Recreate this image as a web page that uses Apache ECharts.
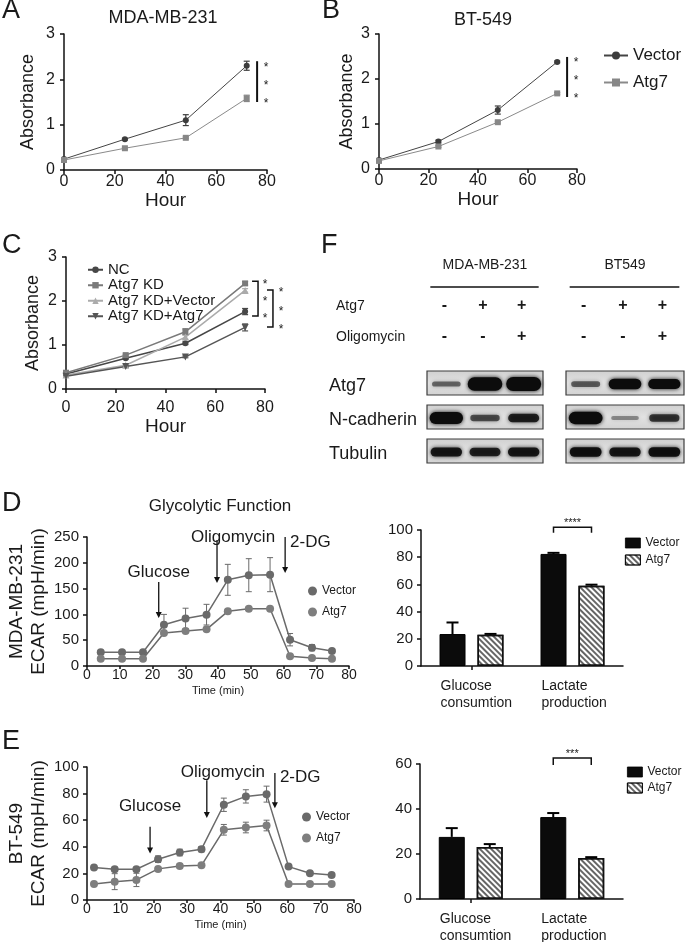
<!DOCTYPE html>
<html><head><meta charset="utf-8">
<script src="https://cdn.jsdelivr.net/npm/echarts@6/dist/echarts.min.js"></script>
<style>html,body{margin:0;padding:0;background:#fff}#c{width:685px;height:942px}</style>
</head><body><div id="c"></div>
<script>
// ---------------- DATA ----------------
const hours = [0, 24, 48, 72];
// Panel A (MDA-MB-231)
const aVector = [0.24, 0.68, 1.10, 2.30];
const aVectorErr = [0.02, 0.02, 0.12, 0.10];
const aAtg7 = [0.22, 0.48, 0.71, 1.58];
const aAtg7Err = [0.02, 0.02, 0.02, 0.07];
// Panel B (BT-549)
const bVector = [0.20, 0.61, 1.31, 2.38];
const bVectorErr = [0.02, 0.03, 0.09, 0.02];
const bAtg7 = [0.18, 0.50, 1.04, 1.68];
const bAtg7Err = [0.02, 0.02, 0.02, 0.02];
// Panel C
const cNC = [0.34, 0.70, 1.04, 1.76];
const cNCErr = [0.02, 0.02, 0.03, 0.07];
const cKD = [0.37, 0.77, 1.30, 2.40];
const cKDErr = [0.02, 0.02, 0.07, 0.04];
const cKDVector = [0.32, 0.54, 1.18, 2.24];
const cKDVectorErr = [0.02, 0.02, 0.05, 0.04];
const cKDAtg7 = [0.29, 0.51, 0.73, 1.40];
const cKDAtg7Err = [0.02, 0.02, 0.02, 0.08];
// Panel D line (ECAR, MDA-MB-231)
const dTime = [4.2, 10.7, 17.1, 23.5, 30.1, 36.5, 43.0, 49.4, 55.9, 62.0, 68.7, 74.8];
const dVector = [26.5, 26.5, 26.5, 80, 92, 99.5, 167, 176, 177, 51, 35.5, 29];
const dVectorErr = [3, 3, 3, 20, 20, 20, 30, 32, 33, 12, 6, 3];
const dAtg7 = [14, 14, 14, 64, 68, 71, 106, 111, 111, 19, 15.5, 14];
const dAtg7Err = [2, 2, 2, 3, 3, 3, 3, 3, 3, 2, 2, 2];
// Panel E line (ECAR, BT-549)
const eTime = [2.1, 8.3, 14.8, 21.3, 27.8, 34.3, 41.0, 47.6, 53.8, 60.4, 66.8, 73.3];
const eVector = [24.4, 23.1, 23.1, 30.7, 35.7, 38.2, 71.6, 77.9, 79.6, 25.1, 20.1, 18.8];
const eVectorErr = [1.5, 1.5, 1.5, 2.5, 2.5, 2, 5, 5, 6, 1, 1, 1];
const eAtg7 = [12.1, 13.8, 15.1, 23.4, 25.6, 26.1, 52.8, 54.5, 56.0, 12.1, 12.1, 12.1];
const eAtg7Err = [1.5, 6, 5, 1.5, 1.5, 1, 4, 4, 4, 1, 1, 1];
// Bar charts
const barCats = ['Glucose\nconsumtion', 'Lactate\nproduction'];
const dBarVector = [23.5, 82.4];
const dBarVectorErr = [8.5, 0.8];
const dBarAtg7 = [23.0, 59.0];
const dBarAtg7Err = [0.6, 0.8];
const eBarVector = [27.6, 36.4];
const eBarVectorErr = [3.9, 1.8];
const eBarAtg7 = [23.1, 18.2];
const eBarAtg7Err = [1.3, 0.4];
// Western blot (F)
const blotLanes = ['1', '2', '3'];
const blotRows = ['Atg7', 'N-cadherin', 'Tubulin'];
const atg7Signs = ['-', '+', '+'];
const oligoSigns = ['-', '-', '+'];
const mdaAtg7 = [0.20, 0.95, 1.00];
const mdaNcad = [0.80, 0.30, 0.50];
const mdaTub = [0.55, 0.50, 0.55];
const btAtg7 = [0.25, 0.70, 0.65];
const btNcad = [0.85, 0.08, 0.40];
const btTub = [0.60, 0.55, 0.60];

// ---------------- HELPERS ----------------
const FONT = '"Liberation Sans", Arial, sans-serif';
const TXT = '#1a1a1a';
function merge(a, b) {
  for (const k in b) {
    if (b[k] && typeof b[k] === 'object' && !Array.isArray(b[k]) && a[k] && typeof a[k] === 'object' && !Array.isArray(a[k])) merge(a[k], b[k]);
    else a[k] = b[k];
  }
  return a;
}
function baseAxis(gi, type, o) {
  return merge({
    type, gridIndex: gi, splitLine: { show: false },
    axisLine: { show: true, onZero: false, lineStyle: { color: '#111', width: 1.5 } },
    axisTick: { show: true, length: 4, lineStyle: { color: '#111', width: 1.5 } },
    axisLabel: { color: TXT, fontFamily: FONT, fontSize: 16 },
    nameTextStyle: { color: TXT, fontFamily: FONT }
  }, o || {});
}
function hiddenAxis(gi, type, data, inverse) {
  return { type, gridIndex: gi, data, inverse: !!inverse, show: false, boundaryGap: true };
}
function pairs(xs, ys) { return xs.map((x, i) => [x, ys[i]]); }
function errBars(gi, xs, ys, errs, color, cap, lw) {
  return {
    type: 'custom', xAxisIndex: gi, yAxisIndex: gi, silent: true, z: 2,
    data: xs.map((x, i) => [x, ys[i] - errs[i], ys[i] + errs[i]]),
    renderItem: (p, api) => {
      const a = api.coord([api.value(0), api.value(1)]);
      const b = api.coord([api.value(0), api.value(2)]);
      const st = { stroke: color, lineWidth: lw };
      return { type: 'group', children: [
        { type: 'line', shape: { x1: a[0], y1: a[1], x2: b[0], y2: b[1] }, style: st },
        { type: 'line', shape: { x1: a[0] - cap, y1: a[1], x2: a[0] + cap, y2: a[1] }, style: st },
        { type: 'line', shape: { x1: b[0] - cap, y1: b[1], x2: b[0] + cap, y2: b[1] }, style: st }
      ] };
    }
  };
}
function barErr(gi, vals, errs, off) {
  return {
    type: 'custom', xAxisIndex: gi, yAxisIndex: gi, silent: true, z: 3,
    data: vals.map((v, i) => [i, v, v + errs[i]]),
    renderItem: (p, api) => {
      const a = api.coord([api.value(0), api.value(1)]);
      const b = api.coord([api.value(0), api.value(2)]);
      const x = a[0] + off;
      const st = { stroke: '#000', lineWidth: 2 };
      return { type: 'group', children: [
        { type: 'line', shape: { x1: x, y1: a[1], x2: x, y2: b[1] }, style: st },
        { type: 'line', shape: { x1: x - 6, y1: b[1], x2: x + 6, y2: b[1] }, style: st }
      ] };
    }
  };
}
function lineSeries(name, gi, xs, ys, symbol, color, size, lineColor, lw, extra) {
  return merge({
    type: 'line', name, xAxisIndex: gi, yAxisIndex: gi, data: pairs(xs, ys),
    symbol, symbolSize: size, showSymbol: true, z: 4,
    itemStyle: { color }, lineStyle: { color: lineColor, width: lw }
  }, extra || {});
}
function blotBoxes(gi) {
  return {
    type: 'custom', xAxisIndex: gi, yAxisIndex: gi, silent: true, z: 1,
    data: blotRows.map((r, i) => [0, i]),
    renderItem: (p, api) => {
      const cs = p.coordSys;
      const y = api.coord([0, api.value(1)])[1];
      return { type: 'rect', shape: { x: cs.x, y: y - 12, width: cs.width, height: 24 },
        style: { fill: new echarts.graphic.LinearGradient(0, 0, 0, 1, [{ offset: 0, color: '#d0d0d0' }, { offset: 0.5, color: '#e2e2e2' }, { offset: 1, color: '#d2d2d2' }]), stroke: '#3c3c3c', lineWidth: 1.2 } };
    }
  };
}
function blotBands(gi, rowsVals) {
  const data = [];
  rowsVals.forEach((arr, ri) => arr.forEach((v, li) => data.push([li, ri, v])));
  return {
    type: 'custom', xAxisIndex: gi, yAxisIndex: gi, silent: true, z: 2, data,
    renderItem: (p, api) => {
      const c = api.coord([api.value(0), api.value(1)]);
      const v = api.value(2);
      const th = 3 + 11 * v;
      const w = 27 + 8 * v;
      const dark = Math.min(1, 0.3 + 1.1 * v);
      const col = 'rgba(12,12,12,' + dark.toFixed(2) + ')';
      return { type: 'rect', shape: { x: c[0] - w / 2, y: c[1] - th / 2 + 1, width: w, height: th, r: th / 2 },
        style: { fill: col, shadowBlur: 4, shadowColor: col } };
    }
  };
}
const hatch = { symbol: 'rect', color: 'rgba(0,0,0,0.6)', dashArrayX: [1, 0], dashArrayY: [1.5, 2], rotation: Math.PI / 4, symbolSize: 1 };

// ---------------- CHART ----------------
const chart = echarts.init(document.getElementById('c'));
const grids = [
  { left: 64, top: 34, width: 203, height: 136 },   // A
  { left: 379, top: 34, width: 198, height: 135 },  // B
  { left: 66, top: 257, width: 199, height: 132 },  // C
  { left: 87, top: 537, width: 262, height: 129 },  // D line
  { left: 87, top: 767, width: 267, height: 133 },  // E line
  { left: 421, top: 530, width: 202, height: 136 }, // D bar
  { left: 420, top: 764, width: 203, height: 135 }, // E bar
  { left: 427, top: 366, width: 116, height: 102 }, // blot MDA
  { left: 566, top: 366, width: 118, height: 102 }  // blot BT549
];
const absX = (gi, margin, gap) => baseAxis(gi, 'value', { min: 0, max: 80, interval: 20, axisLabel: { margin }, name: 'Hour', nameLocation: 'middle', nameGap: gap, nameTextStyle: { fontSize: 19 } });
const absY = (gi, gap) => baseAxis(gi, 'value', { min: 0, max: 3, interval: 1, axisLabel: { margin: 9 }, name: 'Absorbance', nameLocation: 'middle', nameGap: gap, nameTextStyle: { fontSize: 18 } });
const timeX = (gi) => baseAxis(gi, 'value', { min: 0, max: 80, interval: 10, axisTick: { length: 3 }, axisLabel: { fontSize: 14, margin: 2 }, name: 'Time (min)', nameLocation: 'middle', nameGap: 19, nameTextStyle: { fontSize: 11 } });

const xAxis = [
  absX(0, 4, 17), absX(1, 4, 17), absX(2, 11, 23),
  timeX(3), timeX(4),
  baseAxis(5, 'category', { data: barCats, axisLabel: { show: false }, axisTick: { alignWithLabel: true } }),
  baseAxis(6, 'category', { data: barCats, axisLabel: { show: false }, axisTick: { alignWithLabel: true } }),
  hiddenAxis(7, 'category', blotLanes), hiddenAxis(8, 'category', blotLanes)
];
const yAxis = [
  absY(0, 27), absY(1, 23), absY(2, 24),
  baseAxis(3, 'value', { min: 0, max: 250, interval: 50, axisLabel: { fontSize: 15, margin: 8 }, name: 'MDA-MB-231\nECAR (mpH/min)', nameLocation: 'middle', nameGap: 37, nameTextStyle: { fontSize: 19, lineHeight: 22 } }),
  baseAxis(4, 'value', { min: 0, max: 100, interval: 20, axisLabel: { fontSize: 15, margin: 8 }, name: 'BT-549\nECAR (mpH/min)', nameLocation: 'middle', nameGap: 35, nameTextStyle: { fontSize: 19, lineHeight: 22 } }),
  baseAxis(5, 'value', { min: 0, max: 100, interval: 20, axisLabel: { fontSize: 15, margin: 8 } }),
  baseAxis(6, 'value', { min: 0, max: 60, interval: 20, axisLabel: { fontSize: 15, margin: 8 } }),
  hiddenAxis(7, 'category', blotRows, true), hiddenAxis(8, 'category', blotRows, true)
];

const DK = '#3c3c3c', LT = '#878787', SG = '#6a6a6a';
const series = [
  // A
  errBars(0, hours, aVector, aVectorErr, DK, 3, 1.2),
  errBars(0, hours, aAtg7, aAtg7Err, LT, 3, 1.2),
  lineSeries('Vector', 0, hours, aVector, 'circle', DK, 6, '#444', 1),
  lineSeries('Atg7', 0, hours, aAtg7, 'rect', LT, 6, '#8a8a8a', 1),
  // B
  errBars(1, hours, bVector, bVectorErr, DK, 3, 1.2),
  errBars(1, hours, bAtg7, bAtg7Err, LT, 3, 1.2),
  lineSeries('Vector', 1, hours, bVector, 'circle', DK, 6, '#444', 1),
  lineSeries('Atg7', 1, hours, bAtg7, 'rect', LT, 6, '#8a8a8a', 1),
  // C
  errBars(2, hours, cNC, cNCErr, '#474747', 3, 1.2),
  errBars(2, hours, cKD, cKDErr, '#777', 3, 1.2),
  errBars(2, hours, cKDVector, cKDVectorErr, '#a8a8a8', 3, 1.2),
  errBars(2, hours, cKDAtg7, cKDAtg7Err, '#555', 3, 1.2),
  lineSeries('NC', 2, hours, cNC, 'circle', '#474747', 6, '#474747', 1.5),
  lineSeries('Atg7 KD', 2, hours, cKD, 'rect', '#7a7a7a', 6, '#7a7a7a', 1.5),
  lineSeries('Atg7 KD+Vector', 2, hours, cKDVector, 'triangle', '#ababab', 7, '#ababab', 1.5),
  lineSeries('Atg7 KD+Atg7', 2, hours, cKDAtg7, 'triangle', '#555', 7, '#555', 1.5, { symbolRotate: 180 }),
  // D line
  errBars(3, dTime, dVector, dVectorErr, SG, 3, 1),
  errBars(3, dTime, dAtg7, dAtg7Err, SG, 3, 1),
  lineSeries('Vector#D', 3, dTime, dVector, 'circle', '#6a6a6a', 8, SG, 1.5),
  lineSeries('Atg7#D', 3, dTime, dAtg7, 'circle', '#7e7e7e', 8, SG, 1.5),
  // E line
  errBars(4, eTime, eVector, eVectorErr, SG, 3, 1),
  errBars(4, eTime, eAtg7, eAtg7Err, SG, 3, 1),
  lineSeries('Vector#E', 4, eTime, eVector, 'circle', '#6a6a6a', 8, SG, 1.5),
  lineSeries('Atg7#E', 4, eTime, eAtg7, 'circle', '#7e7e7e', 8, SG, 1.5),
  // D bar
  { type: 'bar', name: 'Vector#DB', xAxisIndex: 5, yAxisIndex: 5, data: dBarVector, barWidth: 26, barGap: '46%', itemStyle: { color: '#0b0b0b', borderColor: '#000', borderWidth: 1 } },
  { type: 'bar', name: 'Atg7#DB', xAxisIndex: 5, yAxisIndex: 5, data: dBarAtg7, barWidth: 26, barGap: '46%', itemStyle: { color: '#fff', borderColor: '#111', borderWidth: 1.5, decal: hatch } },
  barErr(5, dBarVector, dBarVectorErr, -19), barErr(5, dBarAtg7, dBarAtg7Err, 19),
  // E bar
  { type: 'bar', name: 'Vector#EB', xAxisIndex: 6, yAxisIndex: 6, data: eBarVector, barWidth: 26, barGap: '46%', itemStyle: { color: '#0b0b0b', borderColor: '#000', borderWidth: 1 } },
  { type: 'bar', name: 'Atg7#EB', xAxisIndex: 6, yAxisIndex: 6, data: eBarAtg7, barWidth: 26, barGap: '46%', itemStyle: { color: '#fff', borderColor: '#111', borderWidth: 1.5, decal: hatch } },
  barErr(6, eBarVector, eBarVectorErr, -19), barErr(6, eBarAtg7, eBarAtg7Err, 19),
  // Blots
  blotBoxes(7), blotBands(7, [mdaAtg7, mdaNcad, mdaTub]),
  blotBoxes(8), blotBands(8, [btAtg7, btNcad, btTub])
];

const lgFmt = n => n.split('#')[0];
const legend = [
  { data: ['Vector', 'Atg7'], left: 598, top: 42, orient: 'vertical', itemWidth: 24, itemHeight: 10, itemGap: 10, textStyle: { fontSize: 17, color: TXT, fontFamily: FONT } },
  { data: ['NC', 'Atg7 KD', 'Atg7 KD+Vector', 'Atg7 KD+Atg7'], left: 82, top: 257, orient: 'vertical', itemWidth: 15, itemHeight: 8, itemGap: 0, textStyle: { fontSize: 15, lineHeight: 15.5, color: TXT, fontFamily: FONT } },
  { data: ['Vector#D', 'Atg7#D'], formatter: lgFmt, icon: 'circle', left: 303, top: 580, orient: 'vertical', itemWidth: 9, itemHeight: 9, itemGap: 9, textStyle: { fontSize: 12, color: TXT, fontFamily: FONT } },
  { data: ['Vector#E', 'Atg7#E'], formatter: lgFmt, icon: 'circle', left: 297, top: 806, orient: 'vertical', itemWidth: 9, itemHeight: 9, itemGap: 9, textStyle: { fontSize: 12, color: TXT, fontFamily: FONT } },
  { data: ['Vector#DB', 'Atg7#DB'], formatter: lgFmt, icon: 'rect', left: 620, top: 532, orient: 'vertical', itemWidth: 15, itemHeight: 10, itemGap: 5, itemStyle: { borderWidth: 0.8, borderColor: '#000' }, textStyle: { fontSize: 12, color: TXT, fontFamily: FONT } },
  { data: ['Vector#EB', 'Atg7#EB'], formatter: lgFmt, icon: 'rect', left: 622, top: 761, orient: 'vertical', itemWidth: 15, itemHeight: 10, itemGap: 4, itemStyle: { borderWidth: 0.8, borderColor: '#000' }, textStyle: { fontSize: 12, color: TXT, fontFamily: FONT } }
];

chart.setOption({ animation: false, backgroundColor: '#fff', textStyle: { fontFamily: FONT }, grid: grids, xAxis, yAxis, series, legend });

// ---------------- ANNOTATIONS ----------------
const P = (gi, x, y) => chart.convertToPixel({ gridIndex: gi }, [x, y]);
function txt(x, y, s, size, o) {
  return { type: 'text', x, y, silent: true, z: 10, style: Object.assign({ text: s, fontSize: size, fontFamily: FONT, fill: TXT, align: 'center', verticalAlign: 'middle' }, o || {}) };
}
function ln(x1, y1, x2, y2, w, c) { return { type: 'line', silent: true, z: 10, shape: { x1, y1, x2, y2 }, style: { stroke: c || '#111', lineWidth: w || 1.5 } }; }
function arrow(gi, x, yTop, yTip) {
  const a = P(gi, x, yTop), b = P(gi, x, yTip);
  return { type: 'group', silent: true, z: 10, children: [
    { type: 'line', shape: { x1: a[0], y1: a[1], x2: b[0], y2: b[1] - 4 }, style: { stroke: '#111', lineWidth: 1.3 } },
    { type: 'polygon', shape: { points: [[b[0] - 3, b[1] - 6], [b[0] + 3, b[1] - 6], [b[0], b[1]]] }, style: { fill: '#111' } }
  ] };
}
function sigBar(gi, x, yTop, yBot, dx) {
  const a = P(gi, x, yTop), b = P(gi, x, yBot);
  const out = [ln(a[0], a[1], b[0], b[1], 2, '#111')];
  const ys = [a[1] + 3, (a[1] + b[1]) / 2 + 1, b[1] - 1];
  ys.forEach(y => out.push(txt(a[0] + dx, y + 3, '*', 12)));
  return out;
}
function bracket(gi, x1, x2, yTop, yBot, dx) {
  const a = P(gi, x1, yTop), b = P(gi, x2, yBot);
  const out = [{ type: 'polyline', silent: true, z: 10, shape: { points: [[a[0], a[1]], [b[0], a[1]], [b[0], b[1]], [a[0], b[1]]] }, style: { stroke: '#111', lineWidth: 1.5, fill: null } }];
  [a[1], (a[1] + b[1]) / 2, b[1]].forEach(y => out.push(txt(b[0] + dx, y + 3, '*', 12)));
  return out;
}
function barBracket(gi, cat, yTop, yLeg, stars) {
  const c = P(gi, cat, yTop), l = P(gi, cat, yLeg);
  const x1 = c[0] - 19, x2 = c[0] + 19;
  return [
    { type: 'polyline', silent: true, z: 10, shape: { points: [[x1, l[1]], [x1, c[1]], [x2, c[1]], [x2, l[1]]] }, style: { stroke: '#111', lineWidth: 1.5, fill: null } },
    txt(c[0], c[1] - 4, stars, 11)
  ];
}

const g = [];
// panel letters
[['A', 2, 11], ['B', 322, 11], ['C', 2, 246], ['F', 321, 246], ['D', 2, 504], ['E', 2, 742]].forEach(([s, x, y]) => g.push(txt(x, y, s, 27, { align: 'left' })));
// titles
g.push(txt(163, 18, 'MDA-MB-231', 18), txt(483, 20, 'BT-549', 18), txt(220, 506, 'Glycolytic Function', 17));
// significance A, B, C
g.push(...sigBar(0, 76.1, 2.40, 1.50, 9));
g.push(...sigBar(1, 76.0, 2.49, 1.60, 9));
g.push(...bracket(2, 74.8, 77.2, 2.45, 1.66, 7));
g.push(...bracket(2, 80.8, 83.2, 2.25, 1.41, 8));
// D line annotations
g.push(arrow(3, 21.9, 163, 93), txt(P(3, 21.9, 182)[0], P(3, 21.9, 182)[1], 'Glucose', 17));
g.push(arrow(3, 39.7, 244, 161), txt(P(3, 44.6, 250)[0], P(3, 44.6, 250)[1], 'Oligomycin', 17));
g.push(arrow(3, 60.5, 250, 180), txt(P(3, 62, 240)[0], P(3, 62, 240)[1], '2-DG', 17, { align: 'left' }));
// E line annotations
g.push(arrow(4, 18.9, 55, 35), txt(P(4, 18.9, 70.7)[0], P(4, 18.9, 70.7)[1], 'Glucose', 17));
g.push(arrow(4, 35.9, 90, 61.7), txt(P(4, 40.7, 96.2)[0], P(4, 40.7, 96.2)[1], 'Oligomycin', 17));
g.push(arrow(4, 56.3, 95.5, 69), txt(P(4, 57.8, 92.5)[0], P(4, 57.8, 92.5)[1], '2-DG', 17, { align: 'left' }));
// bar category labels
[5, 6].forEach(gi => barCats.forEach((c, i) => {
  const p = P(gi, i, 0);
  g.push(txt(p[0] - 31, p[1] + 12, c, 14, { align: 'left', verticalAlign: 'top', lineHeight: 17 }));
}));
g.push(...barBracket(5, 1, 102, 98, '****'));
g.push(...barBracket(6, 1, 62.7, 59.6, '***'));
// Western blot headers
[[7, 'MDA-MB-231'], [8, 'BT549']].forEach(([gi, name]) => {
  const l = P(gi, 0, 0), r = P(gi, 2, 0);
  const mid = (l[0] + r[0]) / 2;
  g.push(txt(mid, 265, name, 14));
  g.push(ln(l[0] - 16, 287, r[0] + 15, 287, 1.5));
  blotLanes.forEach((ln_, i) => {
    const x = P(gi, i, 0)[0];
    g.push(txt(x - 2, 306, atg7Signs[i], 16, { fontWeight: 'bold' }));
    g.push(txt(x - 2, 337, oligoSigns[i], 16, { fontWeight: 'bold' }));
  });
});
g.push(txt(336, 306, 'Atg7', 14, { align: 'left' }), txt(336, 337, 'Oligomycin', 14, { align: 'left' }));
blotRows.forEach((r, i) => {
  const y = P(7, 0, i)[1];
  g.push(txt(329, y + 3, r, 18, { align: 'left' }));
});
chart.setOption({ graphic: g });
</script>
</body></html>
